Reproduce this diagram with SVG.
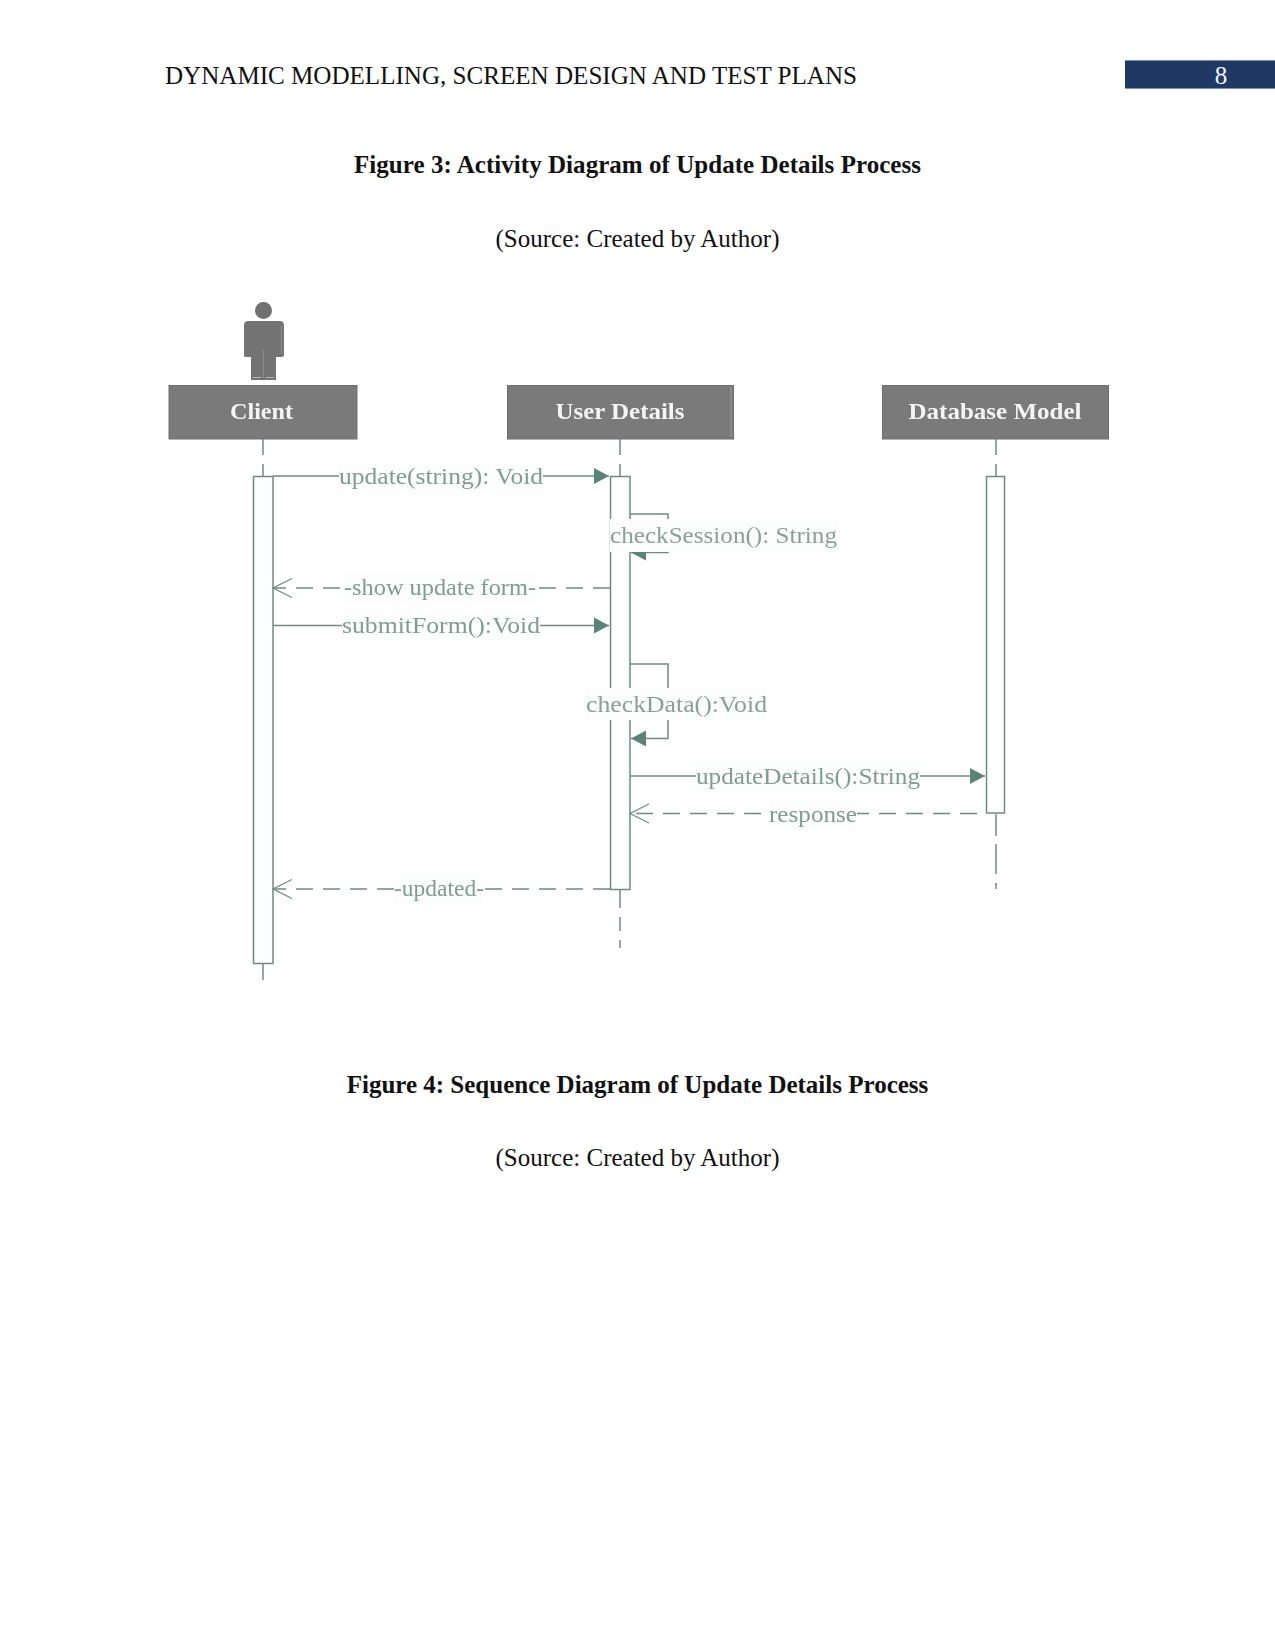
<svg xmlns="http://www.w3.org/2000/svg" width="1275" height="1651" viewBox="0 0 1275 1651">
<style>
text{font-family:"Liberation Serif","Times New Roman",serif}
.page{font-size:25px;fill:#111}
.cap{font-size:25px;fill:#111;text-anchor:middle}
.b{font-weight:bold}
.head{fill:#7a7a7a;stroke:#6e6e6e;stroke-width:1}
.name{font-size:24px;font-weight:bold;fill:#f4f4f4;text-anchor:middle}
.act{fill:#fdfefe;stroke:#6f8a82;stroke-width:1.5}
.life{stroke:#6f7f7b;stroke-width:1.4;fill:none;stroke-dasharray:16 9}
.msg{stroke:#6f8a82;stroke-width:1.5;fill:none}
.ret{stroke:#6f8a82;stroke-width:1.4;fill:none;stroke-dasharray:17 10}
.lab{font-size:24px;fill:#7f9b92}
.bg{fill:#fcfefd}
</style>
<defs>
<marker id="solid" markerUnits="userSpaceOnUse" markerWidth="17" markerHeight="18" refX="16" refY="9" orient="auto"><path d="M1 1L16 9L1 17Z" fill="#5b8377"/></marker>
<marker id="open" markerUnits="userSpaceOnUse" markerWidth="21" markerHeight="22" refX="20" refY="11" orient="auto"><path d="M1 1.500L20 11L1 20.500" fill="none" stroke="#6f8a82" stroke-width="1.200"/></marker>
<filter id="soft" x="-2%" y="-2%" width="104%" height="104%"><feGaussianBlur stdDeviation="0.55"/></filter>
</defs>
<rect width="1275" height="1651" fill="#fff"/>
<g id="page-header">
<text class="page" x="165" y="83.500" textLength="692" lengthAdjust="spacingAndGlyphs">DYNAMIC MODELLING, SCREEN DESIGN AND TEST PLANS</text>
<rect x="1125" y="60" width="150" height="29" fill="#1f3864"/>
<path d="M1125 60.500H1275M1125 88.500H1275" stroke="#7f8fb0" stroke-width="1"/>
<text x="1221" y="83.500" font-size="25" fill="#f2f5fa" text-anchor="middle">8</text>
</g>
<g id="captions">
<text class="cap b" x="637.500" y="172.500" textLength="567" lengthAdjust="spacing">Figure 3: Activity Diagram of Update Details Process</text>
<text class="cap" x="637.500" y="246.500">(Source: Created by Author)</text>
<text class="cap b" x="637.500" y="1092.500">Figure 4: Sequence Diagram of Update Details Process</text>
<text class="cap" x="637.500" y="1165.500">(Source: Created by Author)</text>
</g>
<g filter="url(#soft)">
<g id="client">
<circle cx="263.500" cy="310.500" r="8.500" fill="#6f6f6f"/>
<path d="M248 321H280Q284 321 284 326V355Q284 357 282 357H276V380H251V357H245Q244 357 244 355V326Q244 321 248 321Z" fill="#737373"/>
<path d="M263.500 350V378M281.500 326V354" stroke="#8c8c8c" stroke-width="1" fill="none"/>
<path d="M253 377.500H261M266 377.500H274" stroke="#b5b5b5" stroke-width="1" fill="none"/>
<rect class="head" x="169" y="385.500" width="188" height="53.500"/>
<text class="name" x="261.500" y="419" textLength="63" lengthAdjust="spacingAndGlyphs">Client</text>
<path class="life" d="M263 439V476"/>
<path class="life" d="M263 963V980" style="stroke-dasharray:none"/>
<rect class="act" x="253.500" y="476.500" width="19.500" height="487"/>
</g>
<g id="user-details">
<rect class="head" x="507.500" y="385.500" width="226" height="53.500"/>
<path d="M731 387V437" stroke="#9a9a9a" stroke-width="1"/>
<text class="name" x="620" y="419" textLength="129" lengthAdjust="spacingAndGlyphs">User Details</text>
<path class="life" d="M620 439V476"/>
<path class="life" d="M620 890V948" style="stroke-dasharray:18 9 14 9"/>
<rect class="act" x="610.500" y="476.500" width="19.500" height="413"/>
</g>
<g id="database-model">
<rect class="head" x="882.500" y="385.500" width="226" height="53.500"/>
<text class="name" x="995" y="419" textLength="173" lengthAdjust="spacingAndGlyphs">Database Model</text>
<path class="life" d="M996 439V476"/>
<path class="life" d="M996 814V892" style="stroke-dasharray:22 8 30 9 6 3 1"/>
<rect class="act" x="986.500" y="476.500" width="18" height="336.500"/>
</g>
<g id="connectors">
<path class="msg" d="M273 476H609" marker-end="url(#solid)"/>
<rect class="bg" x="339" y="462" width="204" height="30"/>
<text class="lab" x="339" y="483.500" textLength="204" lengthAdjust="spacingAndGlyphs">update(string): Void</text>

<path class="msg" d="M630 514H668V552.500H631" marker-end="url(#solid)"/>
<rect class="bg" x="610" y="519" width="228" height="33"/>
<text class="lab" x="610" y="543" textLength="227" lengthAdjust="spacingAndGlyphs" style="fill:#8a9f99">checkSession(): String</text>

<path class="ret" d="M610 588H273" marker-end="url(#open)"/>
<rect class="bg" x="344" y="573" width="192" height="30"/>
<text class="lab" x="344" y="595" textLength="192" lengthAdjust="spacingAndGlyphs">-show update form-</text>

<path class="msg" d="M273 625.500H609" marker-end="url(#solid)"/>
<rect class="bg" x="342" y="611" width="198" height="30"/>
<text class="lab" x="342" y="633" textLength="198" lengthAdjust="spacingAndGlyphs">submitForm():Void</text>

<path class="msg" d="M630 664H668V738.500H631" marker-end="url(#solid)"/>
<rect class="bg" x="586" y="688" width="181" height="32"/>
<text class="lab" x="586" y="712" textLength="181" lengthAdjust="spacingAndGlyphs" style="fill:#8a9f99">checkData():Void</text>

<path class="msg" d="M630 776H985" marker-end="url(#solid)"/>
<rect class="bg" x="696" y="761" width="224" height="30"/>
<text class="lab" x="696" y="783.500" textLength="224" lengthAdjust="spacingAndGlyphs">updateDetails():String</text>

<path class="ret" d="M986 813.500H630" marker-end="url(#open)" style="stroke-dashoffset:18"/>
<rect class="bg" x="769" y="799" width="88" height="30"/>
<text class="lab" x="769" y="821.500" textLength="88" lengthAdjust="spacingAndGlyphs">response</text>

<path class="ret" d="M610 889H273" marker-end="url(#open)"/>
<rect class="bg" x="394" y="874" width="90" height="30"/>
<text class="lab" x="394" y="895.500" textLength="90" lengthAdjust="spacingAndGlyphs">-updated-</text>
</g>
</g>
</svg>
